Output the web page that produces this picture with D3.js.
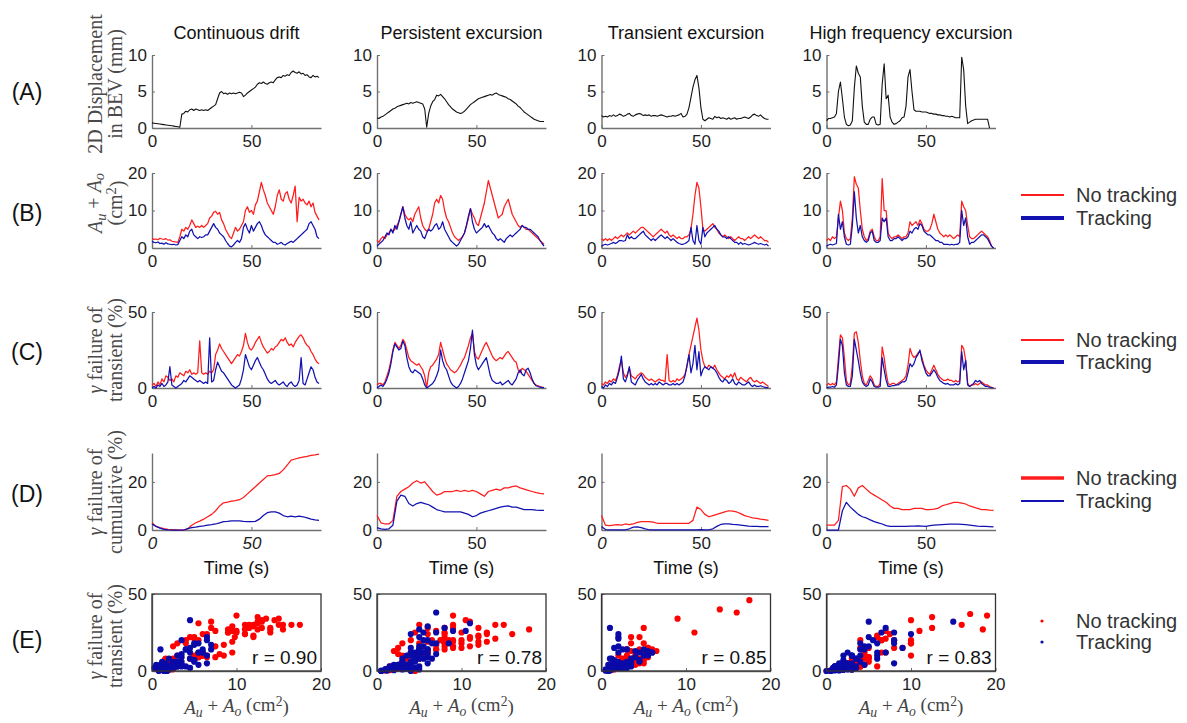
<!DOCTYPE html>
<html><head><meta charset="utf-8">
<script src="https://cdn.jsdelivr.net/npm/d3@7"></script>
<style>body{margin:0;background:#fff;} svg{display:block;}</style>
</head><body>
<script>
// ---------------- DATA ----------------
const categories = ["Continuous drift", "Persistent excursion", "Transient excursion", "High frequency excursion"];
const rowLabels = ["(A)", "(B)", "(C)", "(D)", "(E)"];
const seriesNames = ["No tracking", "Tracking"];
const rValues = ["0.90", "0.78", "0.85", "0.83"];
const timeTicks = [0, 50];
const dispTicks = [0, 5, 10];
const areaTicks = [0, 10, 20];
const transTicks = [0, 50];
const cumTicks = [0, 20];
const scatterXTicks = [0, 10, 20];
const scatterYTicks = [0, 50];
const timeStep = 1;   // s between samples (rows A-C)
const cumStep = 2;    // s between samples (row D)

// (A) 2D displacement in BEV (mm)
const dispDrift = [0.70,0.66,0.62,0.58,0.54,0.50,0.46,0.42,0.38,0.34, 0.30,0.26,0.21,0.16,0.10,1.9,2.0,2.3,2.2,2.5, 2.6,2.4,2.6,2.5,2.4,2.5,2.4,2.5,2.4,2.6, 2.8,3.0,3.2,4.0,4.8,5.0,4.7,4.8,4.6,4.8, 4.7,4.8,4.7,4.8,4.9,4.8,4.3,4.5,4.8,5.0, 5.2,5.4,5.6,6.0,6.2,6.1,6.3,6.1,6.0,6.2, 6.3,6.2,6.6,6.9,7.0,6.9,7.2,7.1,7.3,7.2, 7.6,7.8,7.6,7.5,7.7,7.4,7.5,7.2,7.3,7.0, 6.9,7.2,7.0,7.1,6.9];
const dispPersistent = [1.4,1.3,1.5,1.6,1.8,2.0,2.2,2.4,2.6,2.7, 2.9,3.0,3.1,3.2,3.3,3.4,3.3,3.5,3.4,3.5, 3.6,3.5,3.4,3.3,2.6,0.1,2.0,3.0,3.6,3.9, 4.5,4.4,4.6,4.3,4.0,3.6,3.2,2.9,2.6,2.4, 2.2,2.1,2.0,2.1,2.3,2.6,2.9,3.2,3.4,3.6, 3.8,4.0,4.1,4.2,4.3,4.4,4.5,4.6,4.5,4.7, 4.8,4.6,4.5,4.4,4.3,4.2,4.0,3.9,3.7,3.5, 3.3,3.0,2.8,2.5,2.2,2.0,1.8,1.6,1.4,1.2, 1.1,1.0,0.9,0.9,0.9];
const dispTransient = [1.7,1.5,1.6,1.5,1.7,1.6,1.8,1.6,1.7,1.9, 1.8,1.6,1.7,1.9,2.0,1.7,1.6,1.8,1.9,2.0, 1.9,1.7,1.8,1.7,1.8,1.6,1.7,1.7,1.6,1.7, 1.8,1.7,1.6,1.5,1.6,1.6,1.7,1.6,1.7,1.8, 2.0,1.5,1.6,1.9,2.8,4.2,5.6,6.6,7.2,5.5, 2.8,1.2,1.0,1.2,1.4,1.3,1.2,1.6,1.4,1.5, 1.3,1.4,1.3,1.2,1.4,1.2,1.3,1.4,1.2,1.3, 1.3,1.4,1.5,1.4,1.3,1.5,1.8,1.9,1.7,1.6, 1.8,1.5,1.3,1.2,1.2];
const dispHighFreq = [1.0,1.3,1.3,1.4,1.5,2.0,5.0,6.3,4.0,1.5, 0.5,0.3,0.4,1.0,5.5,8.5,7.5,7.0,3.0,0.8, 0.5,0.5,1.2,1.5,1.5,0.5,0.4,0.5,6.0,8.8, 4.0,4.5,1.5,0.8,0.5,0.6,0.8,1.0,1.4,1.5, 3.0,7.0,8.0,5.0,2.5,2.3,2.3,2.3,2.2,2.2, 2.2,2.1,2.0,2.0,1.9,1.9,1.8,1.8,1.7,1.7, 1.6,1.6,1.5,1.6,1.5,1.4,1.4,1.4,9.7,8.0, 3.0,0.6,0.8,1.0,1.1,1.2,1.2,1.2,1.2,1.2, 1.2,1.2,0.0];

// (B) Au + Ao (cm^2)
const areaNoTrackDrift = [2.5,2.3,2.4,2.2,2.6,2.4,2.3,2.5,2.1,2.2, 1.8,1.7,1.6,1.5,3.0,5.0,4.5,5.5,5.0,6.0, 7.5,6.5,5.5,5.8,5.5,6.0,5.5,6.0,6.5,8.0, 8.5,9.5,9.8,9.0,9.5,7.5,6.5,5.0,4.0,3.0, 2.5,4.0,5.5,4.5,5.0,6.0,7.0,10.0,11.0,9.5, 10.0,9.0,11.5,12.5,15.0,17.5,15.5,14.0,12.0,11.0, 10.0,9.0,11.0,14.0,15.5,13.0,12.5,14.5,15.0,13.0, 12.0,14.0,16.5,7.0,13.5,12.5,13.0,12.0,11.5,12.5, 11.0,12.0,9.5,8.5,7.5];
const areaTrackDrift = [1.8,1.5,1.4,1.6,1.2,1.3,1.0,1.4,1.1,1.0, 0.9,1.0,0.8,0.9,2.0,3.0,2.5,3.5,3.0,4.5, 5.0,3.5,3.0,2.5,3.0,2.8,3.0,3.5,3.5,4.5, 5.5,6.5,5.5,5.0,4.0,3.5,3.0,2.0,1.2,0.5, 0.3,0.8,1.5,2.0,1.5,2.5,5.5,6.5,5.0,4.0, 6.0,4.5,5.5,6.5,7.0,6.0,4.5,3.5,3.0,2.5, 2.0,1.5,1.5,1.0,1.2,1.5,1.0,0.8,1.2,1.5, 1.8,1.5,2.0,2.5,3.0,3.5,4.0,4.5,5.0,6.5, 7.0,6.0,5.0,3.0,2.5];
const areaNoTrackPersistent = [2,1.5,2.5,3,2.5,3.5,4,5,4.5,5, 6,7,9,11,9,8,7.5,8,7,9, 10,11,8,6,5,4.5,5,7,9,12, 13,12,14,13,10,8,7,5.5,4,3, 2.5,2,2.5,3,4,6,8,10.5,9,8, 6.5,6,8,10,12,15,18,16,14,12, 10,8,8.5,9,11,12,13,11,9,8, 7,6,5.5,6,5.5,5,5,4.5,4,3.5, 3,2.5,2,1.5,1];
const areaTrackPersistent = [0.5,1,1.5,2,3,4,3.5,5,4,6, 5,7,9,11,8,6,5,7,4,5, 6,5,4.5,3,2.5,4,5,4.5,5,6, 6.5,5,5.5,7,5,4,3,2,1.5,1, 0.5,1,2,3,4,6,8.5,10.5,7,5, 4,4.5,5,5.5,6.5,5.5,6,5,4,3.5, 2.5,2,2.5,2,1.5,2.5,3,3.5,3,3.5, 4,4.5,5,6,5.5,5.5,5,5,4.5,4, 3.5,3,2,1.2,0.5];
const areaNoTrackTransient = [2.5,2,2.5,2,2.5,2,2.5,3,2.5,3, 3.5,3,3.5,4,3.5,4,4.5,4,4.5,5, 5.5,5.5,5,4.5,4,3.5,3,3.5,4,4.5, 5,4.5,4,4.5,3.5,3,3.5,3,2.5,3, 2.5,2.5,3,3,3.5,5,9,14,17.5,16, 11,5,4.5,5,5.5,6,6.5,5.5,5,4, 3.5,3,3.5,3,2.5,3,2.5,2,2.5,3, 2.5,2.5,2,2.5,3,2.5,3,3.5,3,2.5, 3,2.5,2,2,1.5];
const areaTrackTransient = [0.5,0.8,1,0.8,1,1.2,1.5,1.2,1.5,2, 2,1.8,2,3.5,2.5,3,2.5,2.5,3,3.5, 4,4.5,3.5,3,2.5,2,2.5,2,2.5,3, 3.5,3,2.5,3,2.5,2,2.5,2,1.5,1.2, 1,1,1.2,1.5,2,5.5,2,1,6,2, 1,5.5,3,4,4.5,5,5.5,6,5,4.5, 3.5,3,3,2.5,3,2.5,2,1.5,1.5,1, 1.5,1,1.2,1,0.8,1,1.2,1.5,1.2,1, 1.2,1,0.8,1,0.5];
const areaNoTrackHighFreq = [2,2.5,2,3,2.5,3,8,12.5,10,4, 2.5,2,2.5,8,19,17,16,10,5,3, 2,2.5,4.5,5,3,2,2,3,18.5,10, 10,4,3,2.5,3,3,3.5,3,2.5,3, 3,4,7,6,6.5,7,6,7.5,6.5,5, 4.5,4.5,5,6.5,9,7,5,4,3.5,3, 3.5,3,3.5,3,2.5,3,3.5,3,12.5,11, 10,6,3,2.5,2.5,3,3.5,4,4.5,4, 3.5,3,2,0.5,0];
const areaTrackHighFreq = [0.5,0.8,1,0.8,1,1.2,9,5,7,3, 1,0.8,1,6,15,8,4,6,3,2, 1.5,2,4,4.5,2,1.5,1.5,2,8,7, 8,3,2,2,2.5,2.5,3,2.5,2,2.5, 2.5,3,4.5,4,5,5.5,5,6.5,6,4.5, 4,3.5,3.5,3,2.5,2,2,1.5,1.5,1, 1,1,0.8,1,0.8,1,1,1.5,10,6, 8,3,1,1.5,1.5,2,2.5,3,3.5,3.5, 3,2.5,1.5,0.5,0];

// (C) gamma failure of transient (%)
const transNoTrackDrift = [2,3,1,4,2,6,4,8,7,5, 6,4,8,7,10,9,8,11,10,12, 9,10,9,10,31,10,9,10,9,11, 10,12,22,25,29,26,24,22,20,18, 16,18,20,22,21,24,28,36,30,26, 25,27,30,32,34,30,27,25,23,24, 26,25,27,28,30,32,31,33,30,28, 29,27,30,32,34,35,33,30,28,27, 24,22,19,17,16];
const transTrackDrift = [0,1,0,2,1,3,1,2,4,14, 2,1,0,1,2,3,5,4,6,8, 7,6,5,4,5,4,3,4,3,33, 4,5,12,17,14,11,10,8,6,4, 2,1,0,1,2,6,12,22,18,14, 12,15,18,20,17,14,12,9,6,4, 3,4,5,3,2,3,4,2,1,3, 4,2,1,2,5,20,3,2,6,10, 14,12,7,4,3];
const transNoTrackPersistent = [2,3,3,2,4,8,12,18,25,30, 28,26,28,32,30,25,20,18,17,16, 15,16,14,12,8,0,10,14,15,17, 19,22,30,25,20,16,14,12,11,10, 11,13,15,18,20,24,28,33,36,24, 20,19,22,25,28,30,27,24,21,19, 18,19,20,19,21,23,24,22,20,18, 17,12,10,13,12,11,9,7,5,3, 2,1.5,1,0.5,0.3];
const transTrackPersistent = [0,1,2,1,3,6,10,16,24,29, 27,25,26,31,28,20,14,11,10,12, 11,10,9,6,2,0,1,2,3,5, 8,12,25,18,14,12,8,4,2,1, 0,1,3,6,10,14,18,26,38,22, 15,12,14,16,18,20,14,8,5,4, 3,3,4,2,3,4,5,3,2,4, 6,10,12,9,8,12,13,10,6,3, 1.5,1,0.5,0.3,0.2];
const transNoTrackTransient = [3,2,4,3,5,4,6,5,8,14, 18,10,7,9,13,8,7,6,8,9, 10,9,7,6,5,6,5,4,5,6, 5,5,4,22,5,4,5,4,6,5, 6,7,9,14,22,28,34,40,46,38, 25,18,14,13,15,14,13,15,12,10, 8,7,6,8,7,9,7,10,6,5, 7,6,5,4,6,7,5,4,5,4, 3,4,3,2,1];
const transTrackTransient = [1,0,2,1,3,2,4,3,7,12, 21,6,4,8,14,4,3,2,5,7, 9,6,4,3,2,3,2,3,2,4, 3,2,3,3,2,2,3,2,3,2, 3,4,8,15,22,10,16,28,12,24, 8,12,14,13,12,14,13,12,10,7, 5,4,6,5,3,4,6,3,2,4, 3,2,2,3,4,2,1,2,1,1, 1.5,1,0.5,0.3,0.2];
const transNoTrackHighFreq = [2,3,2,3,2,4,20,35,33,20, 5,2,3,15,36,37,30,18,8,3, 2,5,8,6,2,1,1,3,27,20, 10,3,2,3,3,2,3,4,5,6, 8,15,26,22,20,21,23,24,20,15, 12,10,9,12,15,12,9,7,6,5, 5,6,5,5,4,5,4,5,28,26, 18,3,1,2,2,3,2,3,4,3, 2,2,1,0.5,0];
const transTrackHighFreq = [0,0.5,0.5,1,0.5,2,15,32,28,10, 2,1,1,8,32,25,18,10,4,2, 1,2,6,4,1,0.5,0.5,1,20,12, 5,1,1,1.5,1.5,2,2,3,4,4, 5,10,16,14,16,20,22,25,18,14, 10,8,8,10,12,10,7,5,4,3, 2.5,3,2,2,2,3,2,3,24,12, 18,2,1,2,3,5,4,5,3,2, 1,1,0.5,0.2,0];

// (D) gamma failure of cumulative (%), every 2 s
const cumNoTrackDrift = [3,1.5,1,0.6,0.3,0.2,0.1,0,0,0.5, 2,3,3.7,4.5,5.5,6.5,8,10,11.3,11.6, 12,12.2,12.6,13.5,15,16.5,18,19.5,21,22.5, 22.7,23,23.5,25,27,29,29.5,30,30.3,30.6, 31,31.2,31.5];
const cumTrackDrift = [2.5,1.5,0.8,0.3,0.1,0,0,0,0,0.6, 1,1.2,1.5,1.7,2,2.2,2.5,3,3.5,3.6, 3.8,3.8,3.8,3.6,3.5,3.5,3.6,4.5,6,7.2, 7.5,7.5,7,6,5.5,5.8,5.5,5.8,5.5,5, 4.5,4.2,4];
const cumNoTrackPersistent = [6,3,2.5,2.5,4,14,16,17,18,19.5, 20.5,19.5,20,18,16,14.5,15,16,16,16, 16.5,16,16.5,16,16.5,16,15,14,16,16.5, 17,16.5,17.5,17.5,18,18.3,17.5,17,16.5,16, 15.5,15.2,15];
const cumTrackPersistent = [1,0.5,0.3,0.5,2,12,14.5,14,11,10, 11,11.5,11,10.5,9.5,8.5,8,7.5,7.5,7.5, 7.5,7.5,7,6.5,5.5,6,7,7.5,8,8.5, 9,9.5,9.8,10,9.5,9.5,9,8.5,8.5,8.5, 8.3,8.2,8.2];
const cumNoTrackTransient = [6,2,1.8,2,2.2,2,2.5,2.2,2.5,3.2, 3.5,3.5,3.5,3.3,2.8,2.8,2.8,2.8,2.8,2.8, 2.8,2.8,2.8,4,9.5,8.5,6.5,5.5,6,6.5, 7,7.5,8,7.8,7.5,6.8,6,5.5,5,4.8, 4.5,4.3,4];
const cumTrackTransient = [1.5,0.2,0.1,0.1,0.1,0.1,0.1,0.5,1.2,1.3, 1,0.5,0.1,0.1,0.1,0.1,0.1,0.1,0.1,0.1, 0.1,0.1,0.1,0.1,0.1,0.2,0.1,0.1,0.5,1.5, 2.3,2.5,2.5,2.3,2.2,2,1.8,1.6,1.5,1.5, 1.4,1.4,1.4];
const cumNoTrackHighFreq = [2,2,2,4,18,18.5,17,14,17.5,18.5, 17,15.5,14.5,13.5,12.5,11.5,10,9,9,8.5, 8.5,8.5,9,9,9,8.5,8.5,8.7,9,10, 10.5,11,11.5,11.5,11.2,10.8,10,9.5,9,8.5, 8.5,8.3,8.2];
const cumTrackHighFreq = [0,0,0,0,8,11.5,9.5,8,6.5,5.5, 5,4.2,3.5,3,2.5,1.8,1.5,1.5,1.5,1.5, 1.5,1.6,1.6,1.7,1.6,1.5,1.8,2,2.1,2.2, 2.3,2.4,2.4,2.4,2.3,2.2,2,1.8,1.6,1.5, 1.5,1.4,1.3];

// ---------------- LAYOUT / STYLE ----------------
const W = 1187, H = 723;
const colX = [152, 377, 601.5, 826.5];
const PW = 169;
const ROWS = { A: [55, 128], B: [173, 248], C: [312, 388], D: [453, 530], E: [594, 671] };
const RED = "#ff1c1c", BLUE = "#1212b0", AXIS = "#707070";
const SANS = "'Liberation Sans', Arial, Helvetica, sans-serif";
const SERIF = "'Liberation Serif', 'Times New Roman', serif";

const disp = [dispDrift, dispPersistent, dispTransient, dispHighFreq];
const areaNo = [areaNoTrackDrift, areaNoTrackPersistent, areaNoTrackTransient, areaNoTrackHighFreq];
const areaTr = [areaTrackDrift, areaTrackPersistent, areaTrackTransient, areaTrackHighFreq];
const transNo = [transNoTrackDrift, transNoTrackPersistent, transNoTrackTransient, transNoTrackHighFreq];
const transTr = [transTrackDrift, transTrackPersistent, transTrackTransient, transTrackHighFreq];
const cumNo = [cumNoTrackDrift, cumNoTrackPersistent, cumNoTrackTransient, cumNoTrackHighFreq];
const cumTr = [cumTrackDrift, cumTrackPersistent, cumTrackTransient, cumTrackHighFreq];

const svg = d3.select("body").append("svg").attr("width", W).attr("height", H)
  .style("background", "#fff");

function styleAxis(g, size) {
  g.select(".domain").attr("stroke", AXIS).attr("stroke-width", 1.4);
  g.selectAll(".tick line").attr("stroke", AXIS).attr("stroke-width", 1);
  g.selectAll(".tick text").attr("font-family", SANS).attr("font-size", size || 17).attr("fill", "#1e1e1e");
}

function timePanel(ci, row, yMax, yTicks, series, italicX) {
  const [top, bottom] = ROWS[row];
  const x = d3.scaleLinear().domain([0, 85]).range([colX[ci], colX[ci] + PW]);
  const y = d3.scaleLinear().domain([0, yMax]).range([bottom, top]);
  const g = svg.append("g");
  const ax = g.append("g").attr("transform", `translate(0,${bottom})`)
    .call(d3.axisBottom(x).tickValues(timeTicks).tickSizeInner(-3).tickSizeOuter(0).tickPadding(7).tickFormat(d3.format("d")));
  const ay = g.append("g").attr("transform", `translate(${colX[ci]},0)`)
    .call(d3.axisLeft(y).tickValues(yTicks).tickSizeInner(-3).tickSizeOuter(0).tickPadding(5).tickFormat(d3.format("d")));
  styleAxis(ax); styleAxis(ay);
  if (italicX) ax.selectAll(".tick text").filter(d => italicX.includes(d)).attr("font-style", "italic");
  series.forEach(s => {
    const line = d3.line().x((d, i) => x(i * s.step)).y(d => y(d));
    g.append("path").datum(s.values).attr("d", line).attr("fill", "none")
      .attr("stroke", s.color).attr("stroke-width", s.width || 1.25).attr("stroke-linejoin", "round");
  });
}

function scatterPanel(ci) {
  const [top, bottom] = ROWS.E;
  const x = d3.scaleLinear().domain([0, 20]).range([colX[ci], colX[ci] + PW]);
  const y = d3.scaleLinear().domain([0, 50]).range([bottom, top]);
  const g = svg.append("g");
  const ax = g.append("g").attr("transform", `translate(0,${bottom})`)
    .call(d3.axisBottom(x).tickValues(scatterXTicks).tickSizeInner(-3).tickSizeOuter(0).tickPadding(7));
  const ay = g.append("g").attr("transform", `translate(${colX[ci]},0)`)
    .call(d3.axisLeft(y).tickValues(scatterYTicks).tickSizeInner(-3).tickSizeOuter(0).tickPadding(5));
  styleAxis(ax); styleAxis(ay);
  const pts = [
    { xs: areaNo[ci], ys: transNo[ci], color: "#ff0000" },
    { xs: areaTr[ci], ys: transTr[ci], color: "#0a0aa8" }
  ];
  pts.forEach(p => {
    g.append("g").selectAll("circle").data(d3.zip(p.xs, p.ys)).join("circle")
      .attr("cx", d => x(d[0])).attr("cy", d => y(d[1])).attr("r", 3.1).attr("fill", p.color);
  });
  g.append("rect").attr("x", colX[ci]).attr("y", top).attr("width", PW).attr("height", bottom - top)
    .attr("fill", "none").attr("stroke", "#333").attr("stroke-width", 1.3);
  g.append("text").attr("x", colX[ci] + PW - 4).attr("y", bottom - 7).attr("text-anchor", "end")
    .attr("font-family", SANS).attr("font-size", 19).attr("fill", "#111").text("r = " + rValues[ci]);
}

function mathAuAo(t, after, close) {
  t.append("tspan").attr("font-style", "italic").text("A");
  t.append("tspan").attr("font-style", "italic").attr("font-size", "0.72em").attr("dy", "0.25em").text("u");
  t.append("tspan").attr("dy", "-0.25em").text(" + ");
  t.append("tspan").attr("font-style", "italic").text("A");
  t.append("tspan").attr("font-style", "italic").attr("font-size", "0.72em").attr("dy", "0.25em").text("o");
  if (after) {
    t.append("tspan").attr("dy", "-0.25em").text(after);
    t.append("tspan").attr("font-size", "0.72em").attr("dy", "-0.4em").text("2");
    t.append("tspan").attr("dy", "0.4em").text(close);
  }
}

for (let ci = 0; ci < 4; ci++) {
  svg.append("text").attr("x", colX[ci] + PW / 2).attr("y", 33).attr("dy", "0.35em")
    .attr("text-anchor", "middle").attr("font-family", SANS).attr("font-size", 18).attr("fill", "#111")
    .text(categories[ci]);
  timePanel(ci, "A", 10, dispTicks, [{ values: disp[ci], step: timeStep, color: "#111", width: 1.1 }]);
  timePanel(ci, "B", 20, areaTicks, [
    { values: areaNo[ci], step: timeStep, color: RED },
    { values: areaTr[ci], step: timeStep, color: BLUE }]);
  timePanel(ci, "C", 50, transTicks, [
    { values: transNo[ci], step: timeStep, color: RED },
    { values: transTr[ci], step: timeStep, color: BLUE }]);
  timePanel(ci, "D", 32, cumTicks, [
    { values: cumNo[ci], step: cumStep, color: RED },
    { values: cumTr[ci], step: cumStep, color: BLUE }],
    ci === 0 ? [0, 50] : ci === 2 ? [0] : null);
  svg.append("text").attr("x", colX[ci] + PW / 2).attr("y", 568).attr("dy", "0.35em")
    .attr("text-anchor", "middle").attr("font-family", SANS).attr("font-size", 18).attr("fill", "#111")
    .text("Time (s)");
  scatterPanel(ci);
  const xl = svg.append("text").attr("x", colX[ci] + PW / 2).attr("y", 707).attr("dy", "0.35em")
    .attr("text-anchor", "middle").attr("font-family", SERIF).attr("font-size", 19).attr("fill", "#444");
  mathAuAo(xl, " (cm", ")");
}

// row labels
const rowY = [92, 213, 352, 494, 640];
rowLabels.forEach((lab, i) => {
  svg.append("text").attr("x", 27).attr("y", rowY[i]).attr("dy", "0.35em").attr("text-anchor", "middle")
    .attr("font-family", SANS).attr("font-size", 23).attr("fill", "#111").text(lab);
});

// y-axis labels (rotated, two lines)
function yLabel(lines, cy) {
  const xs = [95, 115];
  lines.forEach((ln, i) => {
    const t = svg.append("text").attr("x", xs[i]).attr("y", cy).attr("dy", "0.35em")
      .attr("text-anchor", "middle").attr("transform", `rotate(-90,${xs[i]},${cy})`)
      .attr("font-family", SERIF).attr("font-size", 20).attr("fill", "#4a4a4a");
    if (typeof ln === "string") {
      if (ln.startsWith("γ")) {
        t.append("tspan").attr("font-style", "italic").text("γ");
        t.append("tspan").text(ln.slice(1));
      } else t.text(ln);
    } else ln(t);
  });
}
yLabel(["2D Displacement", "in BEV (mm)"], 84);
yLabel([t => mathAuAo(t), t => { t.append("tspan").text("(cm"); t.append("tspan").attr("font-size", "0.72em").attr("dy", "-0.4em").text("2"); t.append("tspan").attr("dy", "0.4em").text(")"); }], 203);
yLabel(["γ failure of", "transient (%)"], 350);
yLabel(["γ failure of", "cumulative (%)"], 492);
yLabel(["γ failure of", "transient (%)"], 636);

// legends
function lineLegend(yRed, yBlue, wRed, wBlue) {
  [[yRed, RED, wRed, seriesNames[0]], [yBlue, BLUE, wBlue, seriesNames[1]]].forEach(([yy, c, w, name]) => {
    svg.append("line").attr("x1", 1021).attr("x2", 1064).attr("y1", yy).attr("y2", yy)
      .attr("stroke", c).attr("stroke-width", w);
    svg.append("text").attr("x", 1076).attr("y", yy).attr("dy", "0.35em").attr("font-family", SANS)
      .attr("font-size", 20).attr("fill", "#333").text(name);
  });
}
lineLegend(195, 218, 2, 4);
lineLegend(340, 362, 2, 4);
lineLegend(478, 501, 3.5, 2);
[[621, "#ff0000", seriesNames[0]], [642, "#0a0aa8", seriesNames[1]]].forEach(([yy, c, name]) => {
  svg.append("circle").attr("cx", 1042).attr("cy", yy).attr("r", 1.6).attr("fill", c);
  svg.append("text").attr("x", 1076).attr("y", yy).attr("dy", "0.35em").attr("font-family", SANS)
    .attr("font-size", 20).attr("fill", "#333").text(name);
});
</script>
</body></html>
